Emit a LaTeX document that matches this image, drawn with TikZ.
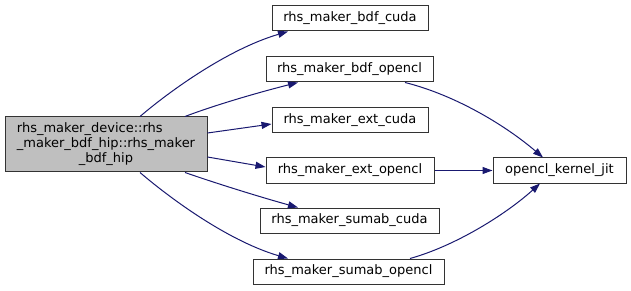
\documentclass[tikz,border=0pt]{standalone}
\usepackage{fontspec}
\setmainfont{DejaVu Sans}
\usetikzlibrary{arrows.meta}
\definecolor{edgeblue}{HTML}{191970}
\definecolor{mainfill}{HTML}{BFBFBF}
\tikzset{
  fn/.style={draw=black!80, line width=1pt, fill=white, inner sep=0pt,
    minimum height=25pt, font=\fontsize{13}{15}\selectfont},
  mainfn/.style={fn, fill=mainfill, align=center, minimum height=55pt},
  call/.style={draw=edgeblue, line width=1pt,
    -{Triangle[length=10pt,width=7pt]}}
}
\begin{document}
\begin{tikzpicture}[x=1pt, y=-1pt]
\useasboundingbox (0,0) rectangle (631,291);
% caller (first line starts flush with the second)
\node[mainfn, minimum width=202pt] (main) at (106,144.5)
  {\rlap{rhs\_maker\_device::rhs}\phantom{\_maker\_bdf\_hip::rhs\_maker}\\\_maker\_bdf\_hip::rhs\_maker\\\_bdf\_hip};
% callees
\node[fn, minimum width=156pt] (bdfcuda) at (350,18.5) {rhs\_maker\_bdf\_cuda};
\node[fn, minimum width=167pt] (bdfocl) at (349.5,69.5) {rhs\_maker\_bdf\_opencl};
\node[fn, minimum width=156pt] (extcuda) at (350,120) {rhs\_maker\_ext\_cuda};
\node[fn, minimum width=168pt] (extocl) at (350,170.5) {rhs\_maker\_ext\_opencl};
\node[fn, minimum width=179pt] (sumcuda) at (349.5,220.5) {rhs\_maker\_sumab\_cuda};
\node[fn, minimum width=191pt] (sumocl) at (348.5,271.5) {rhs\_maker\_sumab\_opencl};
\node[fn, minimum width=133pt] (jit) at (559.5,170.5) {opencl\_kernel\_jit};
% calls from the caller
\draw[call] ([xshift=34pt]main.north) .. controls (165,95) and (225,50) .. ([xshift=-62pt]bdfcuda.south);
\draw[call] ([xshift=79pt]main.north) .. controls (215,105) and (260,92) .. ([xshift=-51.5pt]bdfocl.south);
\draw[call] ([yshift=11.5pt]main.east) -- ([yshift=-4pt]extcuda.west);
\draw[call] ([yshift=-12.5pt]main.east) -- ([yshift=3.5pt]extocl.west);
\draw[call] ([xshift=79pt]main.south) .. controls (215,183) and (260,197) .. ([xshift=-51.5pt]sumcuda.north);
\draw[call] ([xshift=34pt]main.south) .. controls (165,194) and (225,240) .. ([xshift=-60.5pt]sumocl.north);
% calls into the kernel compiler
\draw[call] ([xshift=55.5pt]bdfocl.south) .. controls (455,95) and (505,125) .. ([xshift=-16.5pt]jit.north);
\draw[call] (extocl.east) -- (jit.west);
\draw[call] ([xshift=61.5pt]sumocl.north) .. controls (455,246) and (505,215) .. ([xshift=-19.5pt]jit.south);
\end{tikzpicture}
\end{document}
